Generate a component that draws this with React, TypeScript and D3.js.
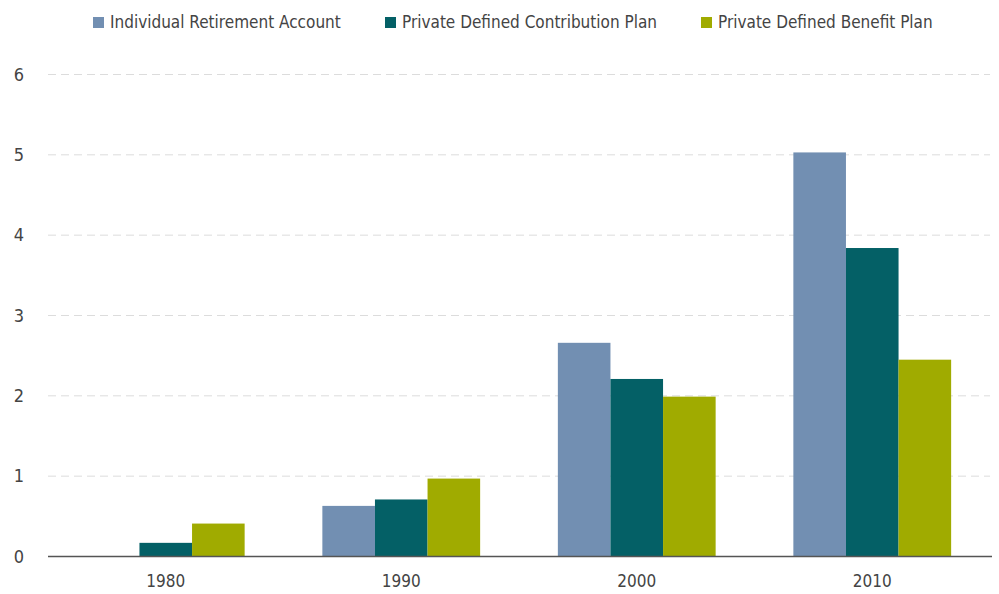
import * as d3 from 'd3';
import React, { useRef, useEffect } from 'react';

const years = ['1980', '1990', '2000', '2010'];
const seriesNames = [
  'Individual Retirement Account',
  'Private Defined Contribution Plan',
  'Private Defined Benefit Plan',
];
const ira = [0, 0.63, 2.66, 5.03];
const definedContribution = [0.17, 0.71, 2.21, 3.84];
const definedBenefit = [0.41, 0.97, 1.99, 2.45];
const yTicks = [0, 1, 2, 3, 4, 5, 6];
const colors = ['#728fb2', '#046066', '#a0ab00'];

const width = 999;
const height = 594;
const font = '"Liberation Sans Narrow", "DejaVu Sans Condensed", sans-serif';

function App() {
  const ref = useRef<SVGSVGElement>(null);

  useEffect(() => {
    const svg = d3.select(ref.current);
    svg.selectAll('*').remove();

    const margin = { top: 74.5, right: 9, bottom: 37.5, left: 48 };
    const series = [ira, definedContribution, definedBenefit];

    const x = d3.scaleBand<string>()
      .domain(years)
      .range([margin.left, width - margin.right])
      .paddingInner(0.33)
      .paddingOuter(0.165);

    const x1 = d3.scaleBand<number>()
      .domain(d3.range(series.length))
      .range([0, x.bandwidth()]);

    const y = d3.scaleLinear()
      .domain([0, 6])
      .range([height - margin.bottom, margin.top]);

    // grid
    svg.append('g')
      .selectAll('line')
      .data(yTicks.filter(d => d > 0))
      .join('line')
      .attr('x1', margin.left)
      .attr('x2', width - margin.right)
      .attr('y1', d => y(d))
      .attr('y2', d => y(d))
      .attr('stroke', '#dcdcdc')
      .attr('stroke-width', 1)
      .attr('stroke-dasharray', '8,5');

    // y labels
    svg.append('g')
      .selectAll('text')
      .data(yTicks)
      .join('text')
      .attr('x', 24)
      .attr('y', d => y(d))
      .attr('dy', '0.35em')
      .attr('text-anchor', 'end')
      .attr('font-family', font)
      .attr('font-size', 18)
      .attr('fill', '#444')
      .text(d => d);

    // bars
    svg.append('g')
      .selectAll('g')
      .data(years)
      .join('g')
      .attr('transform', d => `translate(${x(d)},0)`)
      .selectAll('rect')
      .data((d, i) => series.map((s, k) => ({ k, v: s[i] })))
      .join('rect')
      .attr('x', d => x1(d.k)!)
      .attr('width', x1.bandwidth())
      .attr('y', d => y(d.v))
      .attr('height', d => y(0) - y(d.v))
      .attr('fill', d => colors[d.k]);

    // x axis
    const xAxis = svg.append('g')
      .attr('transform', `translate(0,${y(0)})`)
      .call(d3.axisBottom(x).tickSize(0).tickPadding(18));
    xAxis.select('.domain')
      .attr('stroke', '#555')
      .attr('stroke-width', 1.5)
      .attr('d', `M${margin.left},0H${width - margin.right + 2}`);
    xAxis.selectAll('text')
      .attr('font-family', font)
      .attr('font-size', 17)
      .attr('fill', '#444');

    // legend
    const legendX = [93, 385, 701];
    const legend = svg.append('g')
      .selectAll('g')
      .data(seriesNames)
      .join('g')
      .attr('transform', (d, i) => `translate(${legendX[i]},22)`);
    legend.append('rect')
      .attr('x', 0)
      .attr('y', -5)
      .attr('width', 11)
      .attr('height', 11)
      .attr('fill', (d, i) => colors[i]);
    legend.append('text')
      .attr('x', 17)
      .attr('dy', '0.35em')
      .attr('font-family', font)
      .attr('font-size', 17)
      .attr('fill', '#444')
      .text(d => d);
  }, []);

  return (
    <div style={{ position: 'absolute', left: 0, top: 0 }}>
      <svg ref={ref} width={width} height={height} style={{ display: 'block', background: '#fff' }} />
    </div>
  );
}

export default App;
